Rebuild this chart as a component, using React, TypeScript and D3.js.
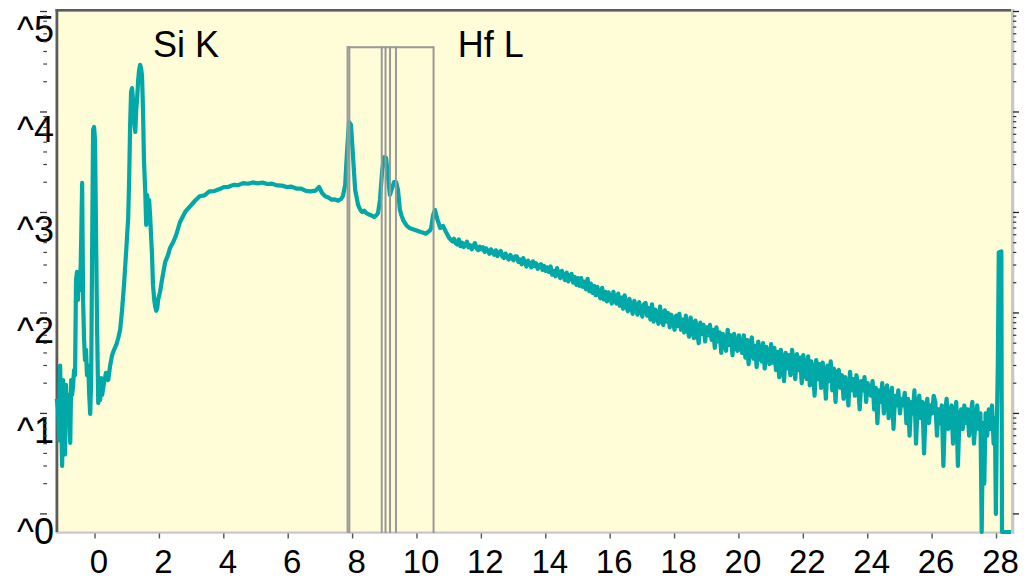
import React from 'react';
import * as d3 from 'd3';

const W = 1034;
const H = 579;
const plot = { left: 58, right: 1011, top: 11, bottom: 532 };

// Low-energy channels: Si K region, continuum hump and the Hf L peaks
const lowKeV = [
  -1.19, -1.146, -1.115, -1.084, -1.053, -1.022, -0.99, -0.96, -0.93, -0.9, -0.87, -0.83, -0.8,
  -0.77, -0.74, -0.71, -0.68, -0.65, -0.62, -0.59, -0.56, -0.53, -0.5, -0.46, -0.43, -0.4,
  -0.37, -0.34, -0.31, -0.28, -0.25, -0.21, -0.18, -0.15, -0.12, -0.09, -0.06, -0.03, 0.0,
  0.03, 0.065, 0.1, 0.13, 0.16, 0.19, 0.22, 0.28, 0.34, 0.41, 0.47, 0.53, 0.59, 0.66, 0.72,
  0.78, 0.84, 0.9, 0.97, 1.03, 1.06, 1.09, 1.12, 1.15, 1.18, 1.21, 1.25, 1.28, 1.31, 1.34,
  1.37, 1.4, 1.43, 1.46, 1.49, 1.52, 1.56, 1.59, 1.62, 1.65, 1.68, 1.71, 1.74, 1.77, 1.8,
  1.84, 1.87, 1.9, 1.93, 1.96, 2.02, 2.08, 2.18, 2.27, 2.33, 2.43, 2.52, 2.64,
  2.8, 2.95, 3.1, 3.25, 3.4, 3.55, 3.7, 3.85, 4.0, 4.15, 4.3, 4.45, 4.6, 4.75, 4.9, 5.05,
  5.2, 5.35, 5.5, 5.65, 5.8, 5.95, 6.1, 6.25, 6.4, 6.55, 6.7, 6.85, 6.96, 7.05, 7.15, 7.25,
  7.35, 7.45, 7.55, 7.65, 7.7, 7.77, 7.83, 7.89, 7.95, 8.02, 8.08, 8.17, 8.24, 8.3, 8.36,
  8.42, 8.49, 8.55, 8.61, 8.67, 8.73, 8.79, 8.85, 8.92, 8.98, 9.04, 9.11, 9.16, 9.23, 9.29,
  9.35, 9.41, 9.47, 9.52, 9.57, 9.63, 9.69, 9.77, 9.85, 9.94, 10.03, 10.12, 10.22, 10.28,
  10.34, 10.4, 10.44, 10.5, 10.56, 10.62, 10.72, 10.81, 10.9, 11.0,
];
const lowCounts = [
  14, 10.8, 5.4, 30, 8.6, 3.0, 21.5, 13.6, 3.9, 19.2, 9.7, 15.3, 10.8,
  5.1, 21.5, 15.3, 19.2, 27, 24, 213, 256, 135, 239, 169, 533, 1966,
  135, 54, 34, 43, 24, 30, 15.3, 9.9, 21.5, 424, 6620, 7100, 5260,
  670, 68, 12.7, 17, 13.6, 22.5, 15.3, 20, 25.3, 21.5, 30, 38, 43, 48, 56,
  68, 107, 190, 424, 881, 2100, 7430, 15800, 17300, 13200, 8320, 6320, 10500, 14100, 20800,
  26200, 29400, 27400, 22800, 10500, 3330, 1600, 751, 1490, 1060, 1331, 944, 597, 378, 190,
  135, 115, 105, 110, 135, 162, 213, 322, 378, 444, 508, 597, 804,
  1012, 1150, 1300, 1450, 1480, 1620, 1630, 1700, 1790, 1800, 1880, 1870, 1960, 1930, 1990, 1950,
  1985, 1920, 1935, 1860, 1850, 1790, 1810, 1730, 1725, 1640, 1620, 1650, 1795, 1563, 1450, 1410,
  1340, 1350, 1310, 1370, 1459, 1878, 4190, 7950, 7430, 3330, 1675, 1188, 1060, 1012, 1040,
  990, 960, 944, 925, 902, 930, 989, 1331, 2650, 3565, 3485, 2100, 1494, 1754, 2010,
  2010, 1675, 1060, 930, 842, 780, 734, 700, 685, 670, 655, 640, 625, 615,
  640, 660, 701, 944, 1060, 881, 701, 734, 640, 557,
];

// High-energy tail, channels every 0.05 keV from 11.1 keV
const tailStartKeV = 11.1;
const tailStepKeV = 0.05;
const tailCounts = [
  515, 548, 495, 480, 538, 462, 500, 452, 478, 512, 450, 472, 430, 465, 495, 440, 422, 456, 430, 450,
  405, 438, 415, 388, 430, 398, 380, 420, 368, 400, 414, 365, 352, 390, 360, 340, 378, 350, 334, 366,
  365, 322, 340, 305, 352, 318, 290, 332, 308, 284, 326, 292, 312, 275, 298, 306, 268, 294, 262, 284,
  255, 290, 240, 262, 232, 280, 246, 222, 262, 232, 212, 252, 206, 232, 245, 200, 228, 190, 222, 186,
  222, 182, 205, 172, 218, 165, 196, 158, 186, 150, 182, 158, 140, 178, 136, 162, 130, 160, 146, 124,
  162, 132, 124, 156, 118, 142, 110, 150, 118, 104, 138, 116, 98, 132, 112, 96, 128, 108, 92, 122,
  126, 94, 112, 86, 122, 82, 108, 92, 78, 116, 88, 76, 106, 82, 100, 72, 96, 84, 68, 94,
  74, 98, 68, 86, 64, 94, 70, 58, 90, 72, 56, 84, 66, 50, 80, 62, 76, 52, 72, 60,
  76, 54, 68, 45, 72, 52, 64, 40, 62, 50, 42, 68, 48, 60, 38, 62, 46, 42, 60, 45,
  40, 60, 36, 54, 31, 50, 57, 35, 47, 29, 52, 40, 33, 50, 28, 46, 38, 31, 49, 32,
  45, 27, 41, 23, 43, 32, 21, 40, 28, 38, 24, 43, 31, 22, 39, 27, 36, 20, 38, 26,
  22, 37, 19, 33, 26, 15, 34, 22, 31, 18, 32, 24, 14, 30, 21, 33, 17, 28, 13, 26,
  27, 18, 24, 14, 23, 20, 12, 26, 17, 22, 15, 24, 19, 11, 21, 17, 23, 13, 20, 16,
  15, 21, 11, 18, 8, 17, 13, 20, 10, 16, 19, 9, 14, 18, 7, 15, 12, 17, 10, 14,
  12, 16, 8, 14, 6, 13, 10, 17, 5, 12, 15, 9, 13, 4, 11, 14, 8, 12, 10, 15,
  13, 6, 11, 8, 12, 3, 10, 14, 7, 9, 12, 5, 10, 13, 3, 9, 11, 7, 12, 8,
  11, 6, 10, 13, 5, 9, 12, 7, 10,
];

// Last channels up to the end of the range
const edgeKeV = [27.54, 27.58, 27.62, 27.66, 27.71, 27.76, 27.81, 27.86, 27.91, 27.95, 27.98, 28.01, 28.04, 28.07, 28.15, 28.17, 28.45];
const edgeCounts = [0, 8, 2, 10, 6, 11, 7, 12, 5, 9, 1, 8, 29, 400, 410, 0, 0];

// Hf L family line energies (keV)
const hfLLines = [7.844, 7.899, 8.905, 9.023, 9.163, 9.347, 10.515];

const xTicks = [0, 2, 4, 6, 8, 10, 12, 14, 16, 18, 20, 22, 24, 26, 28];
const yExponents = [0, 1, 2, 3, 4, 5];

const peakLabels = ['Si K', 'Hf L'];
const peakLabelKeV = [1.8, 11.27];

const FONT = '"Liberation Sans", Arial, sans-serif';

export default function App() {
  const x = d3.scaleLinear().domain([-1.15, 28.45]).range([plot.left, plot.right]);
  const y = d3
    .scaleLog()
    .domain([Math.pow(10, -0.18), Math.pow(10, 5.005)])
    .range([plot.bottom, plot.top])
    .clamp(true);

  const points: [number, number][] = [];
  lowKeV.forEach((k, i) => points.push([k, lowCounts[i]]));
  tailCounts.forEach((c, i) => points.push([tailStartKeV + i * tailStepKeV, c]));
  edgeKeV.forEach((k, i) => points.push([k, edgeCounts[i]]));

  const line = d3
    .line<[number, number]>()
    .x((d) => x(d[0]))
    .y((d) => y(d[1]));

  // minor ticks on the log axis
  const minor: number[] = [];
  for (let e = 0; e < 5; e++) {
    for (let k = 2; k <= 9; k++) minor.push(k * Math.pow(10, e));
  }
  const major = yExponents.map((e) => Math.pow(10, e));

  const hfTop = 47.3;
  const hfMin = d3.min(hfLLines) as number;
  const hfMax = d3.max(hfLLines) as number;

  return (
    <svg
      width={W}
      height={H}
      style={{ position: 'absolute', left: 0, top: 0, background: '#ffffff' }}
      fontFamily={FONT}
    >
      <rect x={plot.left} y={plot.top} width={plot.right - plot.left} height={plot.bottom - plot.top} fill="#fffcd8" />

      {/* frame: dark top/left, light right/bottom */}
      <rect x={plot.right} y={9} width={3.3} height={plot.bottom - 9 + 1.5} fill="#c8c8c8" />
      <rect x={55.5} y={plot.bottom - 0.5} width={plot.right + 3.3 - 55.5} height={2.2} fill="#c8c8c8" />
      <rect x={55.5} y={9} width={2.8} height={plot.bottom - 9} fill="#5c5c5c" />
      <rect x={55.5} y={9} width={plot.right - 55.5} height={2.6} fill="#5c5c5c" />

      {/* bottom axis */}
      {xTicks.map((t) => (
        <g key={`xt${t}`}>
          <line x1={x(t)} x2={x(t)} y1={533.5} y2={538.5} stroke="#555" strokeWidth={1.4} />
          <text x={x(t) + 4} y={573} fontSize={33} textAnchor="middle" fill="#000">
            {t}
          </text>
        </g>
      ))}

      {/* left axis */}
      {major.map((v, i) => (
        <g key={`ym${i}`}>
          <line x1={40} x2={47} y1={y(v)} y2={y(v)} stroke="#333" strokeWidth={1.3} />
          <text x={54} y={y(v) + 30} fontSize={36} textAnchor="end" fill="#000">
            {`^${yExponents[i]}`}
          </text>
        </g>
      ))}
      {minor.map((v) => (
        <line key={`yn${v}`} x1={43.3} x2={47} y1={y(v)} y2={y(v)} stroke="#444" strokeWidth={1.2} />
      ))}

      {/* right axis */}
      {major.map((v, i) => (
        <line key={`rm${i}`} x1={1013} x2={1019} y1={y(v)} y2={y(v)} stroke="#222" strokeWidth={1.3} />
      ))}
      {minor.map((v) => (
        <line key={`rn${v}`} x1={1013} x2={1016.3} y1={y(v)} y2={y(v)} stroke="#333" strokeWidth={1.2} />
      ))}

      {/* spectrum */}
      <path d={line(points) || ''} fill="none" stroke="#00a8a8" strokeWidth={4.2} strokeLinejoin="round" />

      {/* Hf L line markers */}
      <line x1={x(hfMin)} x2={x(hfMax)} y1={hfTop} y2={hfTop} stroke="#999" strokeWidth={2} />
      {hfLLines.map((e) => (
        <line key={`hf${e}`} x1={x(e)} x2={x(e)} y1={hfTop - 1} y2={533} stroke="#999" strokeWidth={2} />
      ))}

      {/* element labels */}
      {peakLabels.map((t, i) => (
        <text key={t} x={x(peakLabelKeV[i])} y={57} fontSize={36} fill="#000">
          {t}
        </text>
      ))}
    </svg>
  );
}
